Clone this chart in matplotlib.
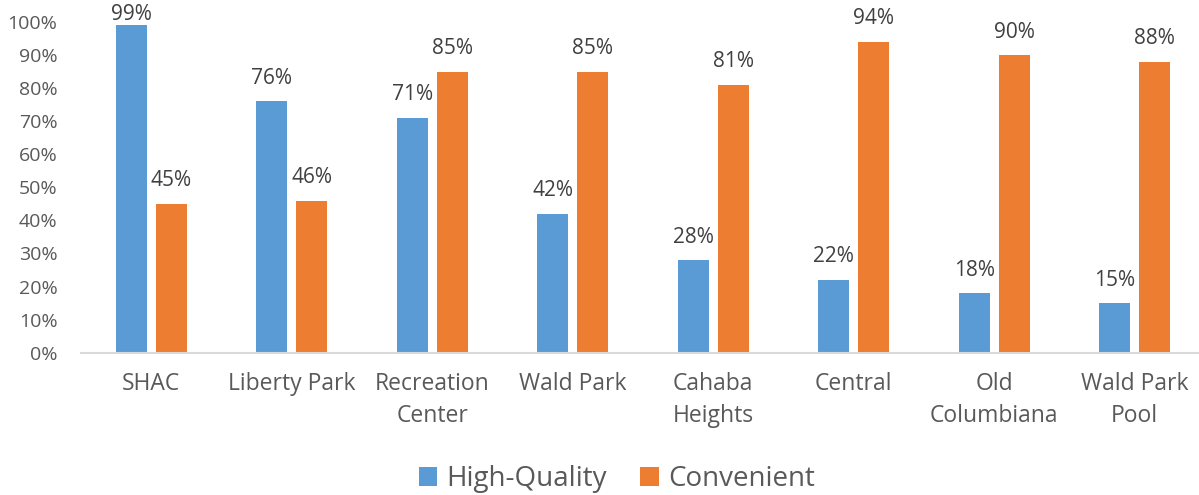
import numpy as np
import matplotlib.pyplot as plt

# chart data
categories = ["SHAC", "Liberty Park", "Recreation\nCenter", "Wald Park", "Cahaba\nHeights",
              "Central", "Old\nColumbiana", "Wald Park\nPool"]
high_quality = [99, 76, 71, 42, 28, 22, 18, 15]
convenient = [45, 46, 85, 85, 81, 94, 90, 88]
series_names = ["High-Quality", "Convenient"]
yticks = [0, 10, 20, 30, 40, 50, 60, 70, 80, 90, 100]

blue = "#5B9BD5"
orange = "#ED7D31"
plt.rcParams['font.family'] = ['Open Sans', 'DejaVu Sans']

W, H = 1199, 495
fig = plt.figure(figsize=(W / 100, H / 100), dpi=100)
left, right = 81, 1205
y0, y100 = 352.7, 22
ax = fig.add_axes([left / W, 1 - y0 / H, (right - left) / W, (y0 - y100) / H])

x = np.arange(len(categories))
bw = 0.22
off = 0.142
b1 = ax.bar(x - off, high_quality, bw, color=blue, label=series_names[0])
b2 = ax.bar(x + off, convenient, bw, color=orange, label=series_names[1])

# labels sit a fixed gap above the bar, kept inside the chart area like Excel does
for bars, vals in ((b1, high_quality), (b2, convenient)):
    for rect, v in zip(bars, vals):
        ax.text(rect.get_x() + rect.get_width() / 2, min(v + 5.3, 100.7), f"{v}%",
                ha="center", va="baseline", fontsize=15, color="#404040", clip_on=False)

ax.set_xlim(-0.5, len(categories) - 0.5)
ax.set_ylim(0, 100)
ax.set_yticks(yticks)
ax.set_yticklabels([f"{t}%" for t in yticks])
ax.set_xticks(x)
ax.set_xticklabels(categories, fontsize=16.5, color="#595959", linespacing=1.45)
ax.tick_params(axis="y", length=0, pad=17, labelsize=14, labelcolor="#595959")
ax.tick_params(axis="x", length=0, pad=14)

for s in ["top", "right", "left"]:
    ax.spines[s].set_visible(False)
ax.spines["bottom"].set_color("#D9D9D9")
ax.spines["bottom"].set_linewidth(1.5)

fig.legend(loc="center", bbox_to_anchor=(617 / W, 1 - 479 / H), ncol=2, frameon=False,
           fontsize=20, handlelength=0.65, handleheight=0.65, handletextpad=0.35,
           columnspacing=1.2, labelcolor="#595959")

fig.savefig("out.png", dpi=100)
